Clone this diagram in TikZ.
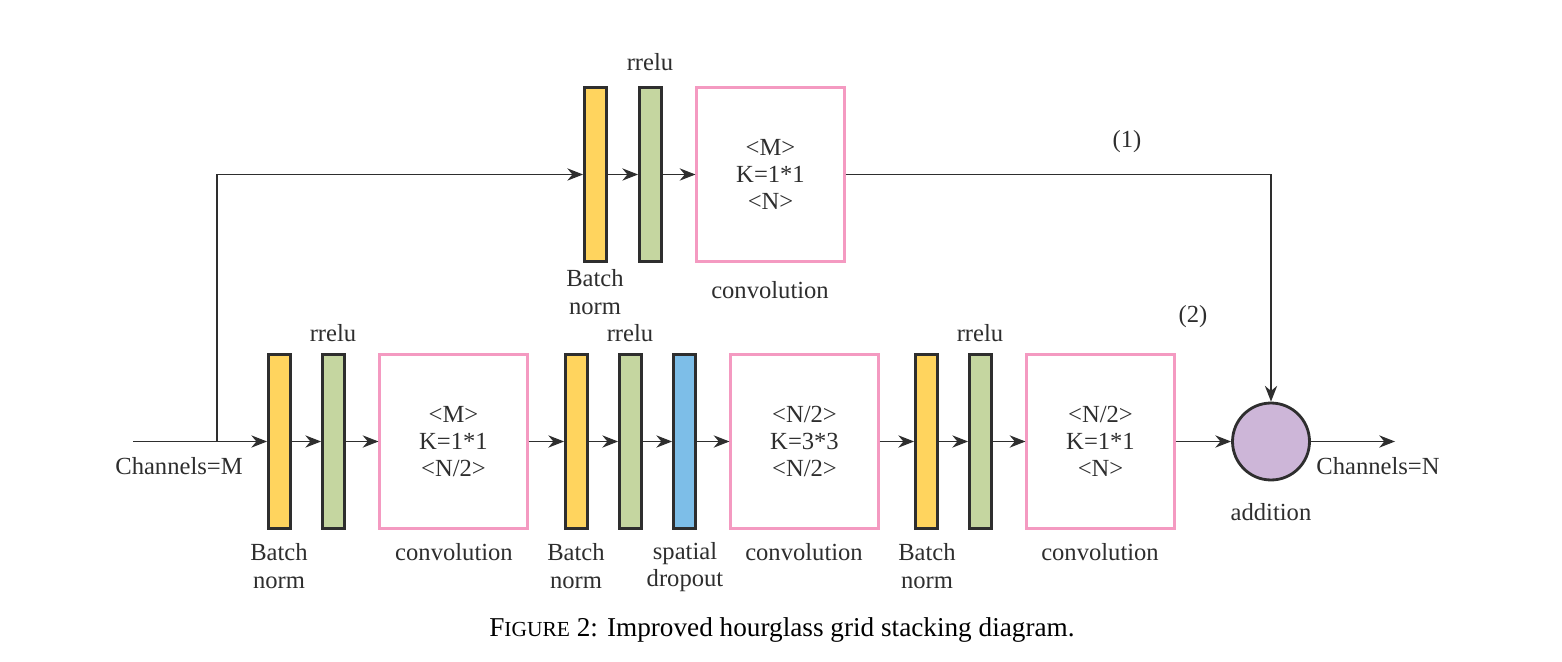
\documentclass[tikz,border=0pt]{standalone}
\usepackage{fontspec}
\setmainfont{Liberation Serif}
\usetikzlibrary{positioning, arrows.meta}
\definecolor{ink}{HTML}{2E2E2E}
\definecolor{bnyellow}{HTML}{FFD45E}
\definecolor{rrgreen}{HTML}{C5D6A0}
\definecolor{dropblue}{HTML}{7DBEE8}
\definecolor{addpurple}{HTML}{CDB6D8}
\definecolor{convpink}{HTML}{F49AC1}

\begin{document}
\begin{tikzpicture}[x=0.02cm, y=-0.02cm,
    font=\fontsize{14}{15.5}\selectfont,
    bar/.style={draw=ink, line width=1.6pt, minimum width=0.44cm, minimum height=3.48cm, inner sep=0pt},
    conv/.style={draw=convpink, line width=1.2pt, minimum width=2.96cm, minimum height=3.48cm, align=center, text=ink},
    lbl/.style={text=ink, align=center, inner sep=0pt},
    flow/.style={draw=ink, line width=0.8pt, -{Stealth[length=9pt,width=7pt]}},
    wire/.style={draw=ink, line width=0.8pt}]

    \useasboundingbox (0,0) rectangle (1562,662);

    % upper branch (1)
    \node[bar, fill=bnyellow] (tbn)   at (595.5,174.5) {};
    \node[bar, fill=rrgreen]  (trr)   at (650.5,174.5) {};
    \node[conv]               (tconv) at (770.5,174.5) {<M>\\K=1*1\\<N>};

    \node[lbl] (tbnlbl)   at (595,292) {Batch\\norm};
    \node[lbl] (trrlbl)   at (650,62)  {rrelu};
    \node[lbl] (tconvlbl) at (770,290) {convolution};
    \node[lbl] (one)      at (1127,142) {(1)};

    % lower branch (2)
    \coordinate (in)    at (133,441.5);
    \coordinate (split) at (217,441.5);
    \coordinate (out)   at (1395,441.5);

    \node[bar, fill=bnyellow] (bna)   at (279.5,441.5) {};
    \node[bar, fill=rrgreen]  (rra)   at (333.5,441.5) {};
    \node[conv]               (conva) at (453.5,441.5) {<M>\\K=1*1\\<N/2>};

    \node[bar, fill=bnyellow] (bnb)   at (576.5,441.5) {};
    \node[bar, fill=rrgreen]  (rrb)   at (630.5,441.5) {};
    \node[bar, fill=dropblue] (drop)  at (684.5,441.5) {};
    \node[conv]               (convb) at (804.5,441.5) {<N/2>\\K=3*3\\<N/2>};

    \node[bar, fill=bnyellow] (bnc)   at (926.5,441.5) {};
    \node[bar, fill=rrgreen]  (rrc)   at (980.5,441.5) {};
    \node[conv]               (convc) at (1100.5,441.5) {<N/2>\\K=1*1\\<N>};

    \node[circle, draw=ink, line width=1.6pt, fill=addpurple, minimum size=1.54cm, inner sep=0pt] (add) at (1271,441.5) {};

    \node[lbl] (inlbl)    at (179,466)  {Channels=M};
    \node[lbl] (outlbl)   at (1378,466) {Channels=N};
    \node[lbl] (addlbl)   at (1271,512) {addition};
    \node[lbl] (two)      at (1193,317) {(2)};

    \node[lbl] (bnalbl)   at (279,566) {Batch\\norm};
    \node[lbl] (rralbl)   at (333,333) {rrelu};
    \node[lbl] (convalbl) at (454,552) {convolution};
    \node[lbl] (bnblbl)   at (576,566) {Batch\\norm};
    \node[lbl] (rrblbl)   at (630,333) {rrelu};
    \node[lbl] (droplbl)  at (685,567) {spatial\\dropout};
    \node[lbl] (convblbl) at (804,552) {convolution};
    \node[lbl] (bnclbl)   at (927,566) {Batch\\norm};
    \node[lbl] (rrclbl)   at (980,333) {rrelu};
    \node[lbl] (convclbl) at (1100,552) {convolution};

    % connectors
    \draw[flow] (in) -- (bna);
    \draw[flow] (split) |- (tbn);
    \draw[flow] (tbn) -- (trr);
    \draw[flow] (trr) -- (tconv);
    \draw[flow] (tconv) -| (add);

    \draw[flow] (bna) -- (rra);
    \draw[flow] (rra) -- (conva);
    \draw[flow] (conva) -- (bnb);
    \draw[flow] (bnb) -- (rrb);
    \draw[flow] (rrb) -- (drop);
    \draw[flow] (drop) -- (convb);
    \draw[flow] (convb) -- (bnc);
    \draw[flow] (bnc) -- (rrc);
    \draw[flow] (rrc) -- (convc);
    \draw[flow] (convc) -- (add);
    \draw[flow] (add) -- (out);

    % caption
    \node[lbl, text=black, font=\fontsize{15.5}{18}\selectfont] (caption) at (782,630)
        {F{\fontsize{12.2}{18}\selectfont IGURE} 2: Improved hourglass grid stacking diagram.};
\end{tikzpicture}
\end{document}
